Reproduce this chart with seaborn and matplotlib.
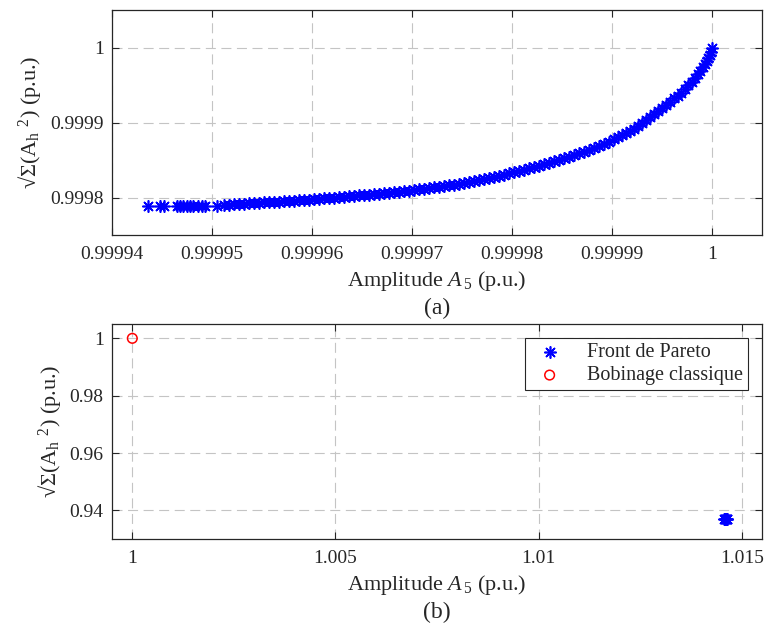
import numpy as np
import pandas as pd
import matplotlib
matplotlib.use("Agg")
import matplotlib.pyplot as plt
from matplotlib.ticker import FuncFormatter
import seaborn as sns

# ---------------- data ----------------
# (a) Pareto front, normalised
front_a_x = [
    0.9999436, 0.9999448, 0.9999452, 0.9999465, 0.9999468, 0.9999471, 0.9999475,
    0.9999478, 0.9999481, 0.9999486, 0.9999490, 0.9999493, 0.9999505,
    0.9999512, 0.9999517, 0.9999522, 0.9999527, 0.9999532, 0.9999537, 0.9999542,
    0.9999547, 0.9999552, 0.9999557, 0.9999562, 0.9999567, 0.9999572, 0.9999577,
    0.9999582, 0.9999587, 0.9999592, 0.9999597, 0.9999602, 0.9999607, 0.9999612,
    0.9999617, 0.9999622, 0.9999627, 0.9999632, 0.9999637, 0.9999642, 0.9999647,
    0.9999652, 0.9999657, 0.9999662, 0.9999667, 0.9999672, 0.9999677, 0.9999682,
    0.9999687, 0.9999692, 0.9999697, 0.9999702, 0.9999707, 0.9999712, 0.9999717,
    0.9999722, 0.9999727, 0.9999732, 0.9999737, 0.9999742, 0.9999747, 0.9999752,
    0.9999757, 0.9999762, 0.9999767, 0.9999772, 0.9999777, 0.9999782, 0.9999787,
    0.9999792, 0.9999797, 0.9999802, 0.9999807, 0.9999812, 0.9999817, 0.9999822,
    0.9999827, 0.9999832, 0.9999837, 0.9999842, 0.9999847, 0.9999852, 0.9999857,
    0.9999862, 0.9999867, 0.9999872, 0.9999877, 0.9999882, 0.9999887, 0.9999892,
    0.9999897,
    0.9999902, 0.9999906, 0.9999910, 0.9999914, 0.9999918, 0.9999922, 0.9999926,
    0.9999930, 0.9999934, 0.9999938, 0.9999942, 0.9999946, 0.9999950, 0.9999954,
    0.9999958, 0.9999962, 0.99999655, 0.9999969, 0.99999725, 0.9999976,
    0.99999795, 0.99999825, 0.99999855, 0.9999988, 0.99999905, 0.99999925,
    0.99999945, 0.9999996, 0.99999975, 0.99999988, 1.0,
]
front_a_y = [
    0.9997884, 0.9997885, 0.9997885, 0.9997886, 0.9997886, 0.9997887, 0.9997887,
    0.9997888, 0.9997888, 0.9997889, 0.9997890, 0.9997890, 0.9997892,
    0.9997902, 0.9997906, 0.9997910, 0.9997914, 0.9997918, 0.9997922, 0.9997926,
    0.9997930, 0.9997934, 0.9997938, 0.9997942, 0.9997946, 0.9997950, 0.9997954,
    0.9997958, 0.9997963, 0.9997967, 0.9997972, 0.9997977, 0.9997982, 0.9997987,
    0.9997993, 0.9997998, 0.9998003, 0.9998009, 0.9998015, 0.9998021, 0.9998027,
    0.9998032, 0.9998038, 0.9998044, 0.9998050, 0.9998057, 0.9998063, 0.9998070,
    0.9998077, 0.9998084, 0.9998091, 0.9998098, 0.9998107, 0.9998116, 0.9998125,
    0.9998134, 0.9998144, 0.9998153, 0.9998162, 0.9998173, 0.9998184, 0.9998195,
    0.9998208, 0.9998221, 0.9998234, 0.9998247, 0.9998261, 0.9998276, 0.9998291,
    0.9998306, 0.9998322, 0.9998338, 0.9998355, 0.9998372, 0.9998390, 0.9998408,
    0.9998426, 0.9998444, 0.9998463, 0.9998482, 0.9998502, 0.9998522, 0.9998543,
    0.9998565, 0.9998588, 0.9998611, 0.9998635, 0.9998660, 0.9998686, 0.9998713,
    0.9998742,
    0.9998774, 0.9998802, 0.9998830, 0.9998858, 0.9998886, 0.9998918, 0.9998958,
    0.9998999, 0.9999039, 0.9999080, 0.9999120, 0.9999160, 0.9999200, 0.9999240,
    0.9999280, 0.9999322, 0.9999360, 0.9999397, 0.9999445, 0.9999494,
    0.9999542, 0.9999590, 0.9999644, 0.9999690, 0.9999740, 0.9999780,
    0.9999820, 0.9999855, 0.9999900, 0.9999945, 1.0,
]

# (b) Pareto front vs classical winding
front_b_x = [1.01457, 1.01459, 1.01460, 1.01461, 1.01462, 1.01463, 1.01464]
front_b_y = [0.93703, 0.93704, 0.93706, 0.93707, 0.93708, 0.93709, 0.93711]
classic_x = [1.0]
classic_y = [1.0]

a_xticks = [0.99994, 0.99995, 0.99996, 0.99997, 0.99998, 0.99999, 1.0]
a_yticks = [0.9998, 0.9999, 1.0]
b_xticks = [1.0, 1.005, 1.01, 1.015]
b_yticks = [0.94, 0.96, 0.98, 1.0]

xlabel_text = r"Amplitude $\mathit{A}_{\,\mathit{5}}$ (p.u.)"
ylabel_text = r"√Σ(A$_{\mathrm{h}}$ $^{2}$) (p.u.)"
legend_labels = ["Front de Pareto", "Bobinage classique"]
panel_labels = ["(a)", "(b)"]

# ---------------- style ----------------
sns.set_style("ticks")
plt.rcParams["font.family"] = ["Liberation Serif", "DejaVu Serif"]
plt.rcParams["mathtext.fontset"] = "custom"
plt.rcParams["mathtext.rm"] = "Liberation Serif"
plt.rcParams["mathtext.it"] = "Liberation Serif:italic"
plt.rcParams["font.size"] = 14

W, H = 766, 632
fig = plt.figure(figsize=(W / 100, H / 100), dpi=100)
fig.patch.set_facecolor("white")

ax_a = fig.add_axes([112 / W, 1 - 235 / H, 650 / W, 225 / H])
ax_b = fig.add_axes([112 / W, 1 - 539 / H, 650 / W, 215 / H])

star = (8, 2, 0)
fmt = FuncFormatter(lambda v, p: "%g" % round(v, 8))

df_a = pd.DataFrame({"x": front_a_x, "y": front_a_y})
sns.scatterplot(data=df_a, x="x", y="y", ax=ax_a, marker=star, s=66,
                color="#0000ff", edgecolor="#0000ff", linewidth=1.2, zorder=3)

df_b = pd.DataFrame({"x": front_b_x, "y": front_b_y})
df_c = pd.DataFrame({"x": classic_x, "y": classic_y})
sns.scatterplot(data=df_b, x="x", y="y", ax=ax_b, marker=star, s=66,
                color="#0000ff", edgecolor="#0000ff", linewidth=1.2,
                label=legend_labels[0], zorder=3)
sns.scatterplot(data=df_c, x="x", y="y", ax=ax_b, marker="o", s=48,
                facecolor="none", edgecolor="#ff0000", linewidth=1.1,
                label=legend_labels[1], zorder=3)

ax_a.set_xlim(0.99994, 1.000005)
ax_a.set_ylim(0.99975, 1.00005)
ax_b.set_xlim(0.9995, 1.0155)
ax_b.set_ylim(0.93, 1.005)

for ax, xt, yt, lab in [(ax_a, a_xticks, a_yticks, panel_labels[0]),
                        (ax_b, b_xticks, b_yticks, panel_labels[1])]:
    ax.set_xticks(xt)
    ax.set_yticks(yt)
    ax.xaxis.set_major_formatter(fmt)
    ax.yaxis.set_major_formatter(fmt)
    ax.tick_params(direction="in", length=5, width=0.8, top=True, right=True,
                   labelsize=14, colors="#262626")
    ax.tick_params(axis="x", pad=8)
    ax.tick_params(axis="y", pad=6)
    ax.grid(True, color="#c4c4c4", linestyle=(0, (9, 5)), linewidth=0.8)
    ax.set_axisbelow(True)
    for sp in ax.spines.values():
        sp.set_color("#262626")
        sp.set_linewidth(0.9)
        sp.set_visible(True)
    ax.set_xlabel(xlabel_text, fontsize=16, labelpad=4, color="#262626")
    ax.set_ylabel(ylabel_text, fontsize=16, labelpad=5, color="#262626")
    ax.text(0.5, -0.325 if ax is ax_a else -0.34, lab, transform=ax.transAxes,
            ha="center", va="center", fontsize=17, color="#262626")

leg = ax_b.legend(loc="upper right", frameon=True, fancybox=False,
                  edgecolor="#262626", framealpha=1, fontsize=14.5,
                  borderaxespad=0.7, handletextpad=0.9, handlelength=1.9,
                  borderpad=0.25, labelspacing=0.2, markerscale=1.0)
leg.get_frame().set_linewidth(0.8)

fig.savefig("out.png", dpi=100, facecolor="white")
